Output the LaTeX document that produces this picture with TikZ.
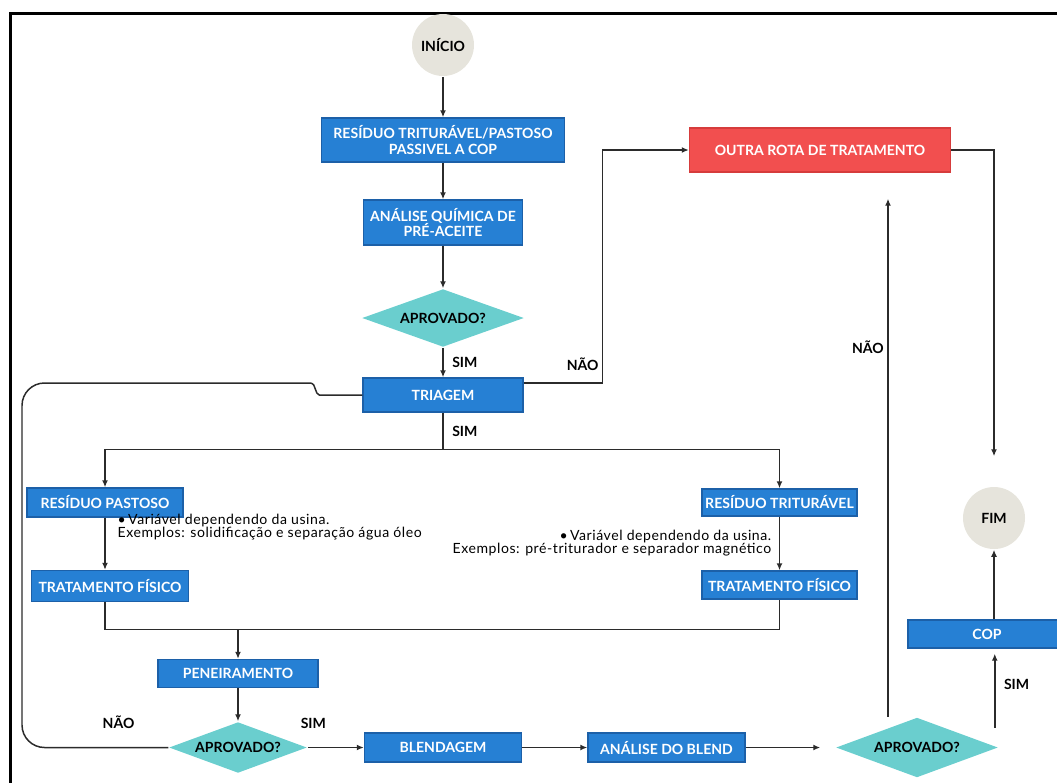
\documentclass[tikz,border=0pt]{standalone}
\usepackage{fontspec}
\setmainfont{Lato}
\usetikzlibrary{shapes,arrows.meta}
\usepackage{xcolor}
\definecolor{boxblue}{HTML}{2680D4}
\definecolor{boxedge}{HTML}{1C60A8}
\definecolor{diateal}{HTML}{6ACECE}
\definecolor{boxred}{HTML}{F24F4F}
\definecolor{rededge}{HTML}{D63C3C}
\definecolor{termgray}{HTML}{E6E4DC}
\definecolor{linegray}{HTML}{2B2B2B}
\newcommand{\lblfont}{\bfseries\fontsize{8}{9}\selectfont}
\newcommand{\notefont}{\fontsize{8}{7.4}\selectfont\addfontfeatures{LetterSpace=4}}
\tikzstyle{block} = [draw=boxedge, fill=boxblue, rectangle, line width=0.8pt, text=white, font=\lblfont, align=center, inner sep=0pt]
\tikzstyle{redblock} = [block, draw=rededge, fill=boxred]
\tikzstyle{decision} = [diamond, fill=diateal, aspect=2.8, inner sep=0pt, font=\lblfont]
\tikzstyle{term} = [circle, fill=termgray, minimum size=1.24cm, inner sep=0pt, font=\lblfont]
\tikzstyle{lbl} = [font=\lblfont, inner sep=2pt]
\tikzstyle{note} = [font=\notefont, inner sep=0pt]
\begin{document}
\begin{tikzpicture}[auto, >={Latex[length=1.4mm, width=1.2mm]}, line width=0.85pt, draw=linegray]
    \tikzset{font={\fontsize{8pt}{9}\selectfont}}
    \useasboundingbox (0,0) rectangle (21.14,-15.64);
    % Frame
    \draw [line width=0.07cm, black] (0.21,-15.7) -- (0.21,-0.27) -- (21.2,-0.27);

    \node [term] (ini) at (8.86,-0.9) {INÍCIO};
    \node [block, below of=ini, node distance=1.9cm, minimum width=4.86cm, minimum height=0.88cm] (res) {RESÍDUO TRITURÁVEL/PASTOSO\\ PASSIVEL A COP};
    \node [block, below of=res, node distance=1.65cm, minimum width=3.18cm, minimum height=0.9cm] (ana) {ANÁLISE QUÍMICA DE\\ PRÉ-ACEITE};
    \node [decision, below of=ana, node distance=1.91cm, minimum width=3.24cm, minimum height=1.16cm] (ap1) {APROVADO?};
    \node [block, below of=ap1, node distance=1.54cm, minimum width=3.2cm, minimum height=0.68cm] (tri) {TRIAGEM};
    \node [redblock, right of=res, node distance=7.54cm, yshift=-0.2cm, minimum width=5.22cm, minimum height=0.88cm] (out) {OUTRA ROTA DE TRATAMENTO};
    \node [block, below of=tri, node distance=2.15cm, xshift=-6.76cm, minimum width=3.12cm, minimum height=0.58cm] (pas) {RESÍDUO PASTOSO};
    \node [block, right of=pas, node distance=13.49cm, minimum width=3.1cm, minimum height=0.54cm] (tri2) {RESÍDUO TRITURÁVEL};
    \node [block, below of=pas, node distance=1.67cm, xshift=0.1cm, minimum width=3.14cm, minimum height=0.62cm] (tfp) {TRATAMENTO FÍSICO};
    \node [block, below of=tri2, node distance=1.65cm, minimum width=3.1cm, minimum height=0.56cm] (tft) {TRATAMENTO FÍSICO};
    \node [block, below of=tri, node distance=7.05cm, minimum width=3.14cm, minimum height=0.58cm] (ble) {BLENDAGEM};
    \node [decision, left of=ble, node distance=4.1cm, minimum width=2.76cm, minimum height=1.02cm] (ap2) {APROVADO?};
    \node [block, above of=ap2, node distance=1.48cm, minimum width=3.2cm, minimum height=0.56cm] (pen) {PENEIRAMENTO};
    \node [block, right of=ble, node distance=4.47cm, minimum width=3.14cm, minimum height=0.58cm] (anb) {ANÁLISE DO BLEND};
    \node [decision, right of=anb, node distance=5.01cm, minimum width=3.24cm, minimum height=1.2cm] (ap3) {APROVADO?};
    \node [block, above of=ap3, node distance=2.27cm, xshift=1.4cm, minimum width=3.16cm, minimum height=0.56cm] (cop) {COP};
    \node [term, above of=cop, node distance=2.32cm, xshift=0.14cm] (fim) {FIM};

    \node [note, anchor=west, align=left] (nt1) at ([xshift=0.24cm, yshift=-0.19cm]pas.south) {•\,Variável dependendo da usina.\\ Exemplos: solidificação e separação água óleo};
    \node [note, anchor=east, align=right] (nt2) at ([xshift=-0.15cm, yshift=-0.53cm]tri2.south) {•\,Variável dependendo da usina.\\ Exemplos: pré-triturador e separador magnético};

    \draw [->] (ini) -- (res);
    \draw [->] (res) -- (ana);
    \draw [->] (ana) -- (ap1);
    \draw [->] (ap1) -- node[lbl, right=0.1cm] {SIM} (tri);
    \draw [->] ([yshift=0.24cm]tri.east) -- ++(1.58,0) |- node[lbl, pos=0.04, left] {NÃO} (out.west);
    \draw (tri.south) -- node[lbl, right=0.1cm] {SIM} ++(0,-0.74) coordinate (spl);
    \draw [->] (spl) -| (pas.north);
    \draw [->] (spl) -| (tri2.north);
    \draw [->] (pas.south) -- (pas.south |- tfp.north);
    \draw [->] (tri2) -- (tft);
    \draw (pas.south |- tfp.south) -- ++(0,-0.55) -| (tft.south);
    \draw [->] (pen.north |- tfp.south) ++(0,-0.55) -- (pen);
    \draw [->] (pen) -- (ap2);
    \draw [->] (ap2) -- node[lbl, pos=0.1, above=0.3cm] {SIM} (ble);
    \draw [->] (ble) -- (anb);
    \draw [->, shorten >=0.3cm] (anb) -- (ap3);

    \coordinate (nao) at ([xshift=-0.58cm]ap3.north);
    \draw [->, shorten >=0.52cm] (nao) -- node[lbl, pos=0.68, left] {NÃO} (nao |- out.south);
    \coordinate (sim) at ([xshift=-0.08cm, yshift=0.4cm]ap3.east);
    \draw [->, shorten >=0.1cm] (sim) -- node[lbl, right=0.1cm, pos=0.55] {SIM} (sim |- cop.south);
    \draw [->, shorten >=0.6cm] (out.east) -| (fim.north);
    \draw [->] (cop.north -| fim.south) -- (fim.south);

    % Loop back to triagem
    \coordinate (lp) at (0.44,-7.66);
    \coordinate (bmp) at ([xshift=-1.02cm, yshift=0.24cm]tri.west);
    \draw [rounded corners=0.45cm] (ap2.west) -- node[lbl, pos=0.34, above=0.3cm] {NÃO} (ap2.west -| lp) -- (lp) -- (bmp);
    \draw (bmp) .. controls ([xshift=0.08cm]bmp) and ([xshift=-0.94cm]tri.west) .. ([xshift=-0.86cm]tri.west) -- (tri.west);
\end{tikzpicture}
\end{document}
